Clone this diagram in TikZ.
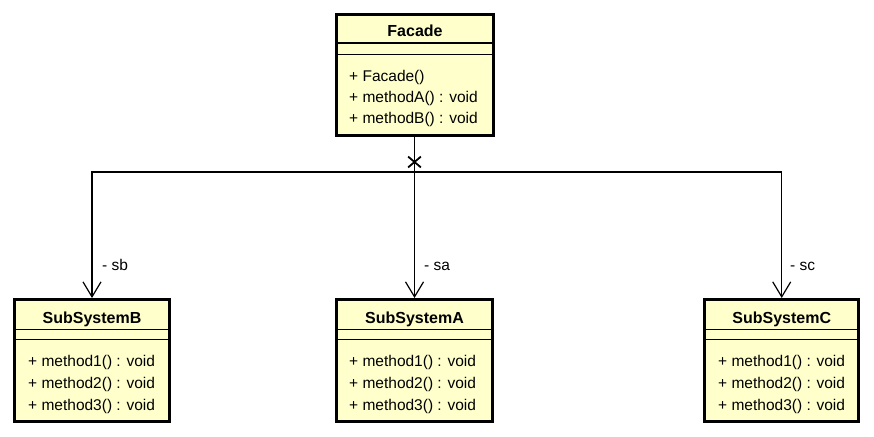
\documentclass[tikz,border=0pt]{standalone}
\usepackage{fontspec}
\setmainfont{Liberation Sans}
\usetikzlibrary{arrows.meta,shapes.misc,calc}
\definecolor{umlfill}{HTML}{FFFFCC}
\tikzset{
  umlbox/.style={draw=black, fill=umlfill, line width=3pt, rectangle, inner sep=0pt, minimum height=122pt},
  sepline/.style={line width=1.4pt, black},
  title/.style={font=\fontsize{16}{19}\selectfont\bfseries, anchor=base, inner sep=0pt},
  member/.style={font=\fontsize{15.5}{19}\selectfont, anchor=base west, inner sep=0pt},
  role/.style={font=\fontsize{15.5}{19}\selectfont, anchor=base west, inner sep=0pt},
  conn/.style={line width=1.2pt, black, -{Straight Barb[length=15pt,width=18pt,line width=1.2pt]}},
  xmark/.style={cross out, draw=black, line width=1.8pt, minimum width=11pt, minimum height=9pt, inner sep=0pt}
}
\begin{document}
\begin{tikzpicture}[x=1pt,y=-1pt]
\useasboundingbox (0,0) rectangle (874,436);

% Facade
\node[umlbox, minimum width=157pt, minimum height=120.5pt] (fac) at (415,74.75) {};
\draw[sepline] ($(fac.north west)+(1.5,30)$) coordinate (fs1) -- (fs1 -| fac.east);
\draw[sepline] ($(fac.north west)+(1.5,41.5)$) coordinate (fs2) -- (fs2 -| fac.east);
\node[title] (facT) at (415,36.7) {Facade};
\node[member] (facM1) at (349,81.7) {+ Facade()};
\node[member] (facM2) at (349,102.5) {+ methodA() : void};
\node[member] (facM3) at (349,123.3) {+ methodB() : void};

% SubSystemB
\node[umlbox, minimum width=155pt] (subB) at (92,360.5) {};
\draw[sepline] ($(subB.north west)+(1.5,31.7)$) coordinate (bs1) -- (bs1 -| subB.east);
\draw[sepline] ($(subB.north west)+(1.5,41.2)$) coordinate (bs2) -- (bs2 -| subB.east);
\node[title] (bT) at (92,323.3) {SubSystemB};
\node[member] (bM1) at (28,366.3) {+ method1() : void};
\node[member] (bM2) at (28,388.2) {+ method2() : void};
\node[member] (bM3) at (28,410) {+ method3() : void};

% SubSystemA
\node[umlbox, minimum width=156pt] (subA) at (414.5,360.5) {};
\draw[sepline] ($(subA.north west)+(1.5,31.7)$) coordinate (as1) -- (as1 -| subA.east);
\draw[sepline] ($(subA.north west)+(1.5,41.2)$) coordinate (as2) -- (as2 -| subA.east);
\node[title] (aT) at (414.5,323.3) {SubSystemA};
\node[member] (aM1) at (349,366.3) {+ method1() : void};
\node[member] (aM2) at (349,388.2) {+ method2() : void};
\node[member] (aM3) at (349,410) {+ method3() : void};

% SubSystemC
\node[umlbox, minimum width=154pt] (subC) at (781.7,360.5) {};
\draw[sepline] ($(subC.north west)+(1.5,31.7)$) coordinate (cs1) -- (cs1 -| subC.east);
\draw[sepline] ($(subC.north west)+(1.5,41.2)$) coordinate (cs2) -- (cs2 -| subC.east);
\node[title] (cT) at (781.7,323.3) {SubSystemC};
\node[member] (cM1) at (718,366.3) {+ method1() : void};
\node[member] (cM2) at (718,388.2) {+ method2() : void};
\node[member] (cM3) at (718,410) {+ method3() : void};

% connectors
\coordinate (bus) at (0,172);
\draw[conn] (fac.south -| subA.north) -- (subA.north);
\draw[conn] (fac.south -| subA.north) -- (subA.north |- bus) -| (subB.north);
\draw[conn] (fac.south -| subA.north) -- (subA.north |- bus) -| (subC.north);
\node[xmark] (nav) at (414.5,162) {};

% role labels
\node[role] (lb) at (102,270.7) {- sb};
\node[role] (la) at (424,270.7) {- sa};
\node[role] (lc) at (790,270.7) {- sc};
\end{tikzpicture}
\end{document}
